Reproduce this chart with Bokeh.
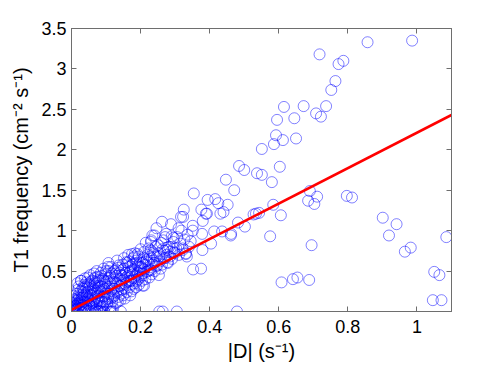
from bokeh.plotting import figure
from bokeh.models import LinearAxis, FixedTicker, Range1d, CustomJSTickFormatter
from bokeh.embed import file_html
from bokeh.resources import INLINE

# ---- data ----
# dense cluster near the origin
cluster_x = [0.002, 0.004, 0.006, 0.003, 0.008, 0.010, 0.007, 0.012, 0.005, 0.011,
             0.014, 0.016, 0.018, 0.015, 0.020, 0.022, 0.019, 0.024, 0.021, 0.025, 0.017,
             0.027, 0.029, 0.031, 0.028, 0.033, 0.035, 0.032, 0.037, 0.038, 0.036, 0.040, 0.039,
             0.042, 0.044, 0.046, 0.043, 0.048, 0.050, 0.047, 0.052, 0.053, 0.055, 0.051, 0.054,
             0.057, 0.059, 0.061, 0.058, 0.063, 0.065, 0.062, 0.067, 0.069, 0.066, 0.070, 0.068,
             0.072, 0.074, 0.076, 0.073, 0.078, 0.080, 0.077, 0.082, 0.084, 0.081, 0.085, 0.079,
             0.087, 0.089, 0.091, 0.088, 0.093, 0.095, 0.092, 0.097, 0.099, 0.096, 0.100, 0.094,
             0.103, 0.105, 0.108, 0.104, 0.110, 0.112, 0.107, 0.115, 0.117, 0.114, 0.119, 0.120, 0.113,
             0.123, 0.125, 0.128, 0.124, 0.130, 0.132, 0.127, 0.135, 0.137, 0.134, 0.139, 0.140,
             0.143, 0.145, 0.148, 0.144, 0.150, 0.152, 0.147, 0.155, 0.157, 0.154, 0.159, 0.160,
             0.163, 0.165, 0.168, 0.164, 0.170, 0.172, 0.167, 0.175, 0.177, 0.174, 0.179, 0.180,
             0.183, 0.185, 0.188, 0.184, 0.190, 0.192, 0.187, 0.195, 0.197, 0.194, 0.199, 0.200,
             0.203, 0.206, 0.208, 0.204, 0.211, 0.213, 0.210, 0.216, 0.218, 0.215, 0.220,
             0.223, 0.226, 0.229, 0.225, 0.232, 0.235, 0.231, 0.238, 0.241, 0.237, 0.244, 0.247, 0.249,
             0.253, 0.256, 0.260, 0.258, 0.264, 0.268, 0.271, 0.275, 0.279, 0.283, 0.287, 0.291, 0.295, 0.299,
             0.303, 0.306, 0.311, 0.315, 0.318, 0.322, 0.327, 0.331, 0.336, 0.340, 0.345]
cluster_y = [0.00, 0.02, 0.05, 0.08, 0.01, 0.11, 0.15, 0.04, 0.19, 0.07,
             0.02, 0.09, 0.14, 0.22, 0.05, 0.17, 0.27, 0.11, 0.31, 0.01, 0.35,
             0.04, 0.13, 0.21, 0.38, 0.08, 0.28, 0.17, 0.33, 0.02, 0.24, 0.12, 0.41,
             0.06, 0.19, 0.30, 0.36, 0.14, 0.25, 0.42, 0.09, 0.33, 0.20, 0.01, 0.45,
             0.16, 0.27, 0.38, 0.05, 0.22, 0.47, 0.11, 0.32, 0.02, 0.41, 0.18, 0.26,
             0.09, 0.35, 0.23, 0.50, 0.29, 0.14, 0.43, 0.38, 0.05, 0.20, 0.48, 0.00,
             0.31, 0.12, 0.40, 0.24, 0.53, 0.19, 0.07, 0.35, 0.46, 0.28, 0.15, 0.00,
             0.38, 0.22, 0.50, 0.11, 0.31, 0.44, 0.60, 0.26, 0.17, 0.55, 0.36, 0.04, 0.00,
             0.41, 0.28, 0.52, 0.19, 0.35, 0.63, 0.47, 0.24, 0.57, 0.12, 0.40, 0.31,
             0.45, 0.33, 0.58, 0.22, 0.39, 0.66, 0.51, 0.28, 0.48, 0.16, 0.61, 0.36,
             0.44, 0.55, 0.30, 0.70, 0.50, 0.38, 0.62, 0.46, 0.58, 0.25, 0.66, 0.41,
             0.52, 0.35, 0.63, 0.72, 0.45, 0.57, 0.30, 0.68, 0.50, 0.40, 0.60, 0.77,
             0.55, 0.47, 0.66, 0.38, 0.74, 0.58, 0.32, 0.62, 0.49, 0.85, 0.70,
             0.60, 0.52, 0.76, 0.42, 0.66, 0.58, 0.88, 0.71, 0.50, 0.63, 0.80, 0.68, 0.57,
             0.72, 0.62, 0.85, 0.53, 0.77, 0.66, 0.92, 0.70, 0.60, 0.80, 0.74, 0.65, 0.86, 0.72,
             0.78, 0.92, 0.70, 0.84, 1.00, 0.76, 0.89, 0.72, 0.95, 0.80, 0.87]

# more points filling the dense band
band_x = [0.001, 0.003, 0.005, 0.007, 0.009, 0.011, 0.013, 0.015, 0.017, 0.019, 0.021, 0.023,
          0.025, 0.026, 0.028, 0.030, 0.032, 0.034, 0.036, 0.038, 0.040, 0.041, 0.043, 0.045,
          0.047, 0.049, 0.051, 0.053, 0.055,
          0.056, 0.058, 0.060, 0.062, 0.064, 0.066, 0.068, 0.070, 0.072, 0.074, 0.076, 0.078,
          0.080, 0.082, 0.084, 0.086, 0.088, 0.090, 0.092, 0.094, 0.096, 0.098, 0.100,
          0.102, 0.104, 0.106, 0.108, 0.110, 0.112, 0.114, 0.116, 0.118, 0.120, 0.122, 0.124,
          0.126, 0.128, 0.130, 0.132, 0.134, 0.136, 0.138, 0.140, 0.142, 0.144, 0.146, 0.148, 0.150,
          0.152, 0.155, 0.158, 0.160, 0.162, 0.165, 0.168, 0.170, 0.172, 0.175, 0.178, 0.180,
          0.183, 0.186, 0.189, 0.192, 0.195, 0.198, 0.202, 0.206, 0.210, 0.214, 0.218,
          0.222, 0.227, 0.232, 0.236, 0.240, 0.245, 0.250, 0.255, 0.262, 0.266, 0.272, 0.278,
          0.285, 0.290, 0.296]
band_y = [0.01, 0.04, 0.10, 0.03, 0.07, 0.13, 0.06, 0.16, 0.03, 0.10, 0.20, 0.07,
          0.14, 0.25, 0.09, 0.17, 0.29, 0.05, 0.12, 0.20, 0.31, 0.03, 0.10, 0.24,
          0.16, 0.34, 0.07, 0.13, 0.28,
          0.37, 0.10, 0.20, 0.30, 0.06, 0.14, 0.36, 0.42, 0.24, 0.03, 0.16, 0.39,
          0.32, 0.10, 0.25, 0.44, 0.06, 0.18, 0.30, 0.38, 0.12, 0.23, 0.50,
          0.08, 0.30, 0.16, 0.41, 0.22, 0.06, 0.35, 0.47, 0.12, 0.28, 0.20, 0.50,
          0.36, 0.10, 0.44, 0.26, 0.54, 0.18, 0.32, 0.48, 0.14, 0.38, 0.27, 0.44, 0.20,
          0.53, 0.34, 0.42, 0.24, 0.60, 0.38, 0.48, 0.20, 0.56, 0.34, 0.52, 0.28,
          0.43, 0.60, 0.38, 0.48, 0.33, 0.55, 0.43, 0.60, 0.52, 0.40, 0.64,
          0.50, 0.68, 0.46, 0.73, 0.60, 0.56, 0.82, 0.68, 0.58, 0.88, 0.66, 0.76,
          0.68, 0.93, 0.78]

# scattered points in the middle range
mid_x = [0.354, 0.394, 0.325, 0.376, 0.392, 0.425, 0.452, 0.431, 0.482, 0.461, 0.436, 0.413,
         0.380, 0.351, 0.378, 0.334, 0.352, 0.295, 0.310, 0.323, 0.262, 0.246, 0.234, 0.223,
         0.274, 0.277, 0.297, 0.322, 0.182, 0.206, 0.253, 0.175,
         0.447, 0.471, 0.416, 0.440, 0.389, 0.317, 0.288, 0.351, 0.404, 0.379, 0.375, 0.462,
         0.240, 0.230, 0.268, 0.331, 0.278, 0.191, 0.201, 0.230, 0.206, 0.172,
         0.485, 0.500, 0.502, 0.534, 0.027, 0.105]
mid_y = [1.46, 1.38, 1.26, 1.26, 1.21, 1.34, 1.32, 1.21, 1.10, 0.94, 0.99, 0.99,
         1.12, 1.06, 0.96, 0.68, 0.52, 0.91, 1.03, 1.17, 1.11, 1.03, 0.94, 0.78,
         0.96, 0.79, 0.73, 0.78, 0.68, 0.47, 0.45, 0.71,
         1.63, 1.50, 1.39, 1.23, 1.21, 1.17, 1.08, 1.00, 0.84, 0.76, 0.53, 0.96,
         0.94, 0.86, 0.75, 0.71, 0.61, 0.71, 0.55, 0.51, 0.32, 0.38,
         1.80, 1.75, 1.05, 1.21, 0.38, 0.55]

# sparse points at large |D|
sparse_x = [0.857, 0.986, 0.718, 0.773, 0.787, 0.764, 0.752, 0.737, 0.708, 0.722, 0.672,
            0.615, 0.645, 0.595, 0.592, 0.586, 0.612, 0.650, 0.551, 0.603, 0.537, 0.551,
            0.580, 0.690, 0.685, 0.711, 0.703, 0.584, 0.797, 0.812, 0.527, 0.543, 0.606,
            0.575, 0.695, 0.901, 0.941, 0.919, 0.982, 0.965, 1.085, 1.050, 1.065, 1.046,
            1.071, 0.608, 0.641, 0.654, 0.688]
sparse_y = [3.33, 3.35, 3.18, 3.06, 3.10, 2.85, 2.74, 2.54, 2.45, 2.41, 2.54,
            2.53, 2.39, 2.37, 2.18, 2.07, 2.12, 2.14, 2.01, 1.79, 1.71, 1.69,
            1.60, 1.49, 1.37, 1.42, 1.33, 1.32, 1.43, 1.41, 1.20, 1.22, 1.19,
            0.93, 0.82, 1.16, 1.08, 0.94, 0.79, 0.74, 0.92, 0.49, 0.45, 0.14,
            0.14, 0.36, 0.40, 0.42, 0.39]

# points with zero frequency
zero_x = [0.062, 0.068, 0.075, 0.080, 0.085, 0.095, 0.114, 0.119, 0.143, 0.254, 0.264, 0.305, 0.479]
zero_y = [0.0] * len(zero_x)

# linear fit line
fit_x = [0.0, 1.1]
fit_y = [0.02, 2.43]

x_ticks = [0.0, 0.2, 0.4, 0.6, 0.8, 1.0]
x_labels = ["0", "0.2", "0.4", "0.6", "0.8", "1"]
y_ticks = [0.0, 0.5, 1.0, 1.5, 2.0, 2.5, 3.0, 3.5]
y_labels = ["0", "0.5", "1", "1.5", "2", "2.5", "3", "3.5"]

all_x = cluster_x + band_x + mid_x + sparse_x + zero_x
all_y = cluster_y + band_y + mid_y + sparse_y + zero_y

FONT = "Liberation Sans"
AXC = "#6e6e6e"

p = figure(frame_width=380, frame_height=283, output_backend="svg", toolbar_location=None,
           x_range=Range1d(0, 1.1), y_range=Range1d(0, 3.5),
           min_border_left=71, min_border_right=39, min_border_top=28, min_border_bottom=52)
p.background_fill_color = "white"
p.border_fill_color = "white"
p.outline_line_color = AXC
p.outline_line_width = 1
p.grid.visible = False

p.scatter(all_x, all_y, marker="circle", size=11, fill_color=None,
          line_color="#0000ff", line_width=0.7, line_alpha=0.7)
p.line(fit_x, fit_y, line_color="#ff0000", line_width=2.6)

def style(ax):
    ax.axis_line_color = AXC
    ax.major_tick_line_color = AXC
    ax.major_tick_in = 5
    ax.major_tick_out = 0
    ax.minor_tick_line_color = None
    ax.major_label_text_font = FONT
    ax.major_label_text_font_size = "18px"
    ax.major_label_text_color = "black"
    ax.axis_label_text_font = FONT
    ax.axis_label_text_font_size = "20px"
    ax.axis_label_text_font_style = "normal"
    ax.axis_label_text_color = "black"

xa = p.xaxis[0]
xa.ticker = FixedTicker(ticks=x_ticks)
xa.major_label_overrides = dict(zip(x_ticks, x_labels))
xa.axis_label = "|D| (s\u207b\u00b9)"
style(xa)
xa.major_label_standoff = 8
xa.axis_label_standoff = 4

ya = p.yaxis[0]
ya.ticker = FixedTicker(ticks=y_ticks)
ya.major_label_overrides = dict(zip(y_ticks, y_labels))
ya.axis_label = "T1 frequency (cm\u207b\u00b2 s\u207b\u00b9)"
style(ya)
ya.major_label_standoff = 5
ya.axis_label_standoff = 6

empty = CustomJSTickFormatter(code="return ''")
ra = LinearAxis(ticker=FixedTicker(ticks=y_ticks), formatter=empty)
style(ra)
ra.major_label_standoff = 0
p.add_layout(ra, "right")
ta = LinearAxis(ticker=FixedTicker(ticks=x_ticks), formatter=empty)
style(ta)
ta.major_label_standoff = 0
p.add_layout(ta, "above")

open("out.html", "w").write(file_html(p, INLINE))
